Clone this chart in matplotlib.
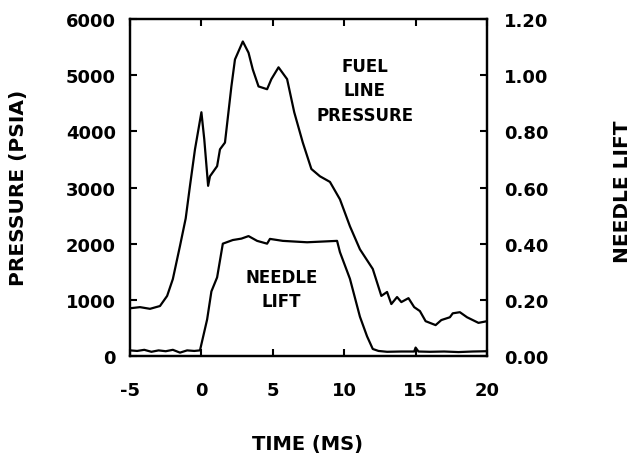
import matplotlib
matplotlib.use('Agg')
import matplotlib.pyplot as plt

# fuel line pressure trace (time in ms, pressure in psia)
t_press = [-5, -4.3, -3.6, -2.9, -2.4, -2.0, -1.5, -1.1, -0.8, -0.45, 0.0, 0.2, 0.47,
           0.6, 1.1, 1.3, 1.65, 2.1, 2.35, 2.9, 3.3, 3.6, 4.0, 4.6, 4.9, 5.4,
           6.0, 6.5, 7.1, 7.7, 8.3, 9.0, 9.7, 10.4, 11.1, 12.0, 12.6, 13.0, 13.3, 13.7,
           14.0, 14.5, 14.9, 15.3, 15.7, 16.4, 16.8, 17.4, 17.6, 18.1, 18.6, 19.4, 20]
pressure = [850, 870, 840, 890, 1070, 1370, 1960, 2450, 3030, 3680, 4340, 3860, 3030,
            3200, 3380, 3680, 3800, 4800, 5280, 5600, 5400, 5100, 4800, 4750, 4930, 5140,
            4930, 4340, 3800, 3330, 3200, 3100, 2790, 2310, 1900, 1550, 1070, 1140, 925, 1050,
            960, 1030, 870, 800, 620, 550, 640, 690, 760, 780, 690, 590, 620]

# needle lift trace (time in ms, lift)
t_lift = [-5, -4.5, -4, -3.5, -3, -2.5, -2, -1.5, -1, -0.5, -0.1, 0.4, 0.7, 1.1, 1.5,
          2.2, 2.8, 3.3, 3.9, 4.6, 4.8, 5.7, 7.4, 9.5, 9.7, 10.4, 11.1, 11.6,
          12.0, 12.4, 13, 14, 14.9, 15.0, 15.2, 16, 17, 18, 19, 20]
lift = [0.02, 0.018, 0.022, 0.015, 0.02, 0.017, 0.022, 0.012, 0.02, 0.018, 0.02, 0.13,
        0.23, 0.28, 0.40, 0.413, 0.418, 0.427, 0.41, 0.40, 0.417, 0.41, 0.405, 0.41,
        0.37, 0.275, 0.14, 0.07, 0.025, 0.018, 0.015, 0.016, 0.016, 0.03, 0.016,
        0.015, 0.016, 0.014, 0.016, 0.017]

x_ticks = [-5, 0, 5, 10, 15, 20]
p_ticks = [0, 1000, 2000, 3000, 4000, 5000, 6000]
l_ticks = [0.0, 0.2, 0.4, 0.6, 0.8, 1.0, 1.2]

plt.rcParams['font.family'] = 'DejaVu Sans'
plt.rcParams['font.weight'] = 'bold'

fig = plt.figure(figsize=(6.32, 4.56), dpi=100)
ax = fig.add_axes([0.2057, 0.2171, 0.5649, 0.739])
ax2 = ax.twinx()

ax.plot(t_press, pressure, color='black', lw=1.6)
ax2.plot(t_lift, lift, color='black', lw=1.6)

ax.set_xlim(-5, 20)
ax.set_ylim(0, 6000)
ax2.set_ylim(0, 1.2)

ax.set_xticks(x_ticks)
ax.set_xticklabels([str(v) for v in x_ticks])
ax.set_yticks(p_ticks)
ax.set_yticklabels([str(v) for v in p_ticks])
ax2.set_yticks(l_ticks)
ax2.set_yticklabels(['%.2f' % v for v in l_ticks])

ax.tick_params(axis='x', direction='in', length=5, width=1.5, pad=18, labelsize=13, top=True)
ax.tick_params(axis='y', direction='in', length=5, width=1.5, pad=10, labelsize=13)
ax2.tick_params(axis='y', direction='in', length=5, width=1.5, pad=12, labelsize=13)

for a in (ax, ax2):
    for s in a.spines.values():
        s.set_linewidth(1.6)

ax.text(11.45, 4730, 'FUEL\nLINE\nPRESSURE', ha='center', va='center',
        fontsize=12, fontweight='bold', linespacing=1.45)
ax.text(5.6, 1190, 'NEEDLE\nLIFT', ha='center', va='center',
        fontsize=12, fontweight='bold', linespacing=1.45)

fig.text(19 / 632, 1 - 188 / 456, 'PRESSURE (PSIA)', rotation=90, ha='center', va='center',
         fontsize=14.5, fontweight='bold')
fig.text(623 / 632, 1 - 192 / 456, 'NEEDLE LIFT', rotation=90, ha='center', va='center',
         fontsize=14.5, fontweight='bold')
fig.text(307 / 632, 1 - 445 / 456, 'TIME (MS)', ha='center', va='center',
         fontsize=14, fontweight='bold')

fig.savefig('out.png', dpi=100)
